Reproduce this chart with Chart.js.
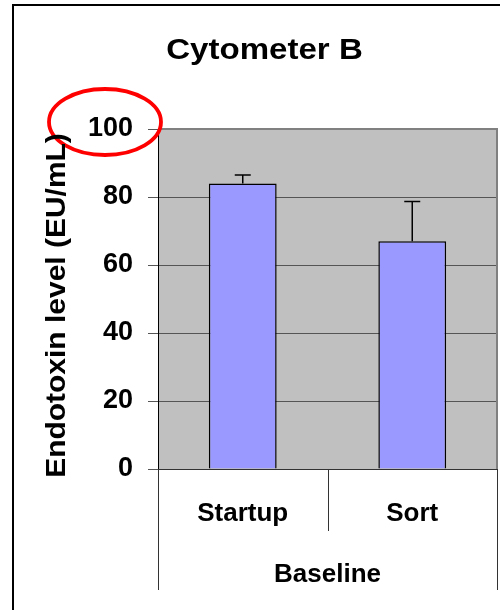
<!DOCTYPE html>
<html>
<head>
<meta charset="utf-8">
<script src="https://cdn.jsdelivr.net/npm/chart.js@4"></script>
<style>
  body { margin: 0; background: #fff; }
  #wrap { position: relative; width: 500px; height: 610px; overflow: hidden; }
  #frame { position: absolute; left: 12px; top: 4px; width: 600px; height: 700px;
           border-top: 2px solid #000; border-left: 2px solid #000; }
  #myChart { position: absolute; left: 0; top: 0; }
</style>
</head>
<body>
<div id="wrap">
  <div id="frame"></div>
  <canvas id="myChart" width="500" height="610"></canvas>
</div>
<script>
// datos
const categories = ['Startup', 'Sort'];
const groupLabel = 'Baseline';
const endotoxin = [84, 67];
const errUp = [2.5, 11.7];
const yTicks = [0, 20, 40, 60, 80, 100];
const chartTitle = 'Cytometer B';
const yTitle = 'Endotoxin level (EU/mL)';

const FONT = "'Liberation Sans', Arial, sans-serif";

// titulos dibujados un poco estirados a lo ancho, como en el original
const stretchedTitles = {
  id: 'stretchedTitles',
  afterDraw(chart) {
    const { ctx, chartArea: a, scales: { y } } = chart;
    ctx.save();
    ctx.fillStyle = '#000';
    ctx.textAlign = 'center';
    ctx.textBaseline = 'alphabetic';
    ctx.font = 'bold 29px ' + FONT;
    ctx.translate((a.left + a.right) / 2 - 63, a.top - 70.5);
    ctx.scale(1.14, 1);
    ctx.fillText(chartTitle, 0, 0);
    ctx.restore();

    ctx.save();
    ctx.fillStyle = '#000';
    ctx.textAlign = 'center';
    ctx.textBaseline = 'alphabetic';
    ctx.font = 'bold 27px ' + FONT;
    ctx.translate(y.left + 25.5, (a.top + a.bottom) / 2 + 6.5);
    ctx.rotate(-Math.PI / 2);
    ctx.scale(1.11, 1);
    ctx.fillText(yTitle, 0, 0);
    ctx.restore();
  }
};

// fondo gris del area de trazado y marco
const plotBg = {
  id: 'plotBg',
  beforeDraw(chart) {
    const { ctx, chartArea: a } = chart;
    ctx.save();
    ctx.fillStyle = '#C0C0C0';
    ctx.fillRect(a.left, a.top, a.right - a.left, a.bottom - a.top);
    ctx.restore();
  },
  afterDraw(chart) {
    const { ctx, chartArea: a, scales } = chart;
    const x = scales.x;
    ctx.save();
    ctx.strokeStyle = '#808080';
    ctx.lineWidth = 2;
    ctx.beginPath();
    ctx.moveTo(a.left, a.top);
    ctx.lineTo(a.right, a.top);
    ctx.lineTo(a.right, a.bottom);
    ctx.stroke();
    // separadores de categorias bajo el eje
    ctx.strokeStyle = '#333';
    ctx.lineWidth = 1;
    const mid = (x.getPixelForValue(0) + x.getPixelForValue(1)) / 2;
    const lines = [[x.left, x.bottom], [mid, a.bottom + 62], [x.right, x.bottom]];
    lines.forEach(([px, end]) => {
      ctx.beginPath();
      ctx.moveTo(Math.round(px) + 0.5, a.bottom);
      ctx.lineTo(Math.round(px) + 0.5, end);
      ctx.stroke();
    });
    // ovalo rojo alrededor de la etiqueta 100
    const y = scales.y;
    ctx.strokeStyle = '#FF0000';
    ctx.lineWidth = 3.8;
    ctx.beginPath();
    ctx.ellipse(y.right - 53, y.getPixelForValue(100) - 7, 56, 33, 0, 0, Math.PI * 2);
    ctx.stroke();
    ctx.restore();
  }
};

// barras de error (solo hacia arriba)
const errorBars = {
  id: 'errorBars',
  afterDatasetsDraw(chart) {
    const { ctx, scales: { y } } = chart;
    const meta = chart.getDatasetMeta(0);
    ctx.save();
    ctx.strokeStyle = '#000';
    ctx.lineWidth = 1.5;
    meta.data.forEach((bar, i) => {
      const top = y.getPixelForValue(endotoxin[i] + errUp[i]);
      ctx.beginPath();
      ctx.moveTo(bar.x, bar.y);
      ctx.lineTo(bar.x, top);
      ctx.moveTo(bar.x - 8, top);
      ctx.lineTo(bar.x + 8, top);
      ctx.stroke();
    });
    ctx.restore();
  }
};

const ctx = document.getElementById('myChart').getContext('2d');
const chart = new Chart(ctx, {
  type: 'bar',
  data: {
    labels: categories,
    datasets: [{
      label: 'Endotoxin',
      data: endotoxin,
      backgroundColor: '#9999FF',
      borderColor: '#000',
      borderWidth: 1.5,
      barPercentage: 0.4,
      categoryPercentage: 1.0
    }]
  },
  options: {
    responsive: false,
    animation: false,
    layout: { padding: { left: 39, right: 3, top: 129, bottom: 20 } },
    plugins: {
      legend: { display: false },
      tooltip: { enabled: false },
      title: { display: false }
    },
    scales: {
      x: {
        grid: { display: false },
        border: { color: '#333', width: 1 },
        ticks: {
          color: '#000',
          font: { family: FONT, size: 26, weight: 'bold' },
          padding: 21,
          maxRotation: 0
        },
        title: {
          display: true,
          text: groupLabel,
          color: '#000',
          font: { family: FONT, size: 26, weight: 'bold' },
          padding: { top: 0, bottom: 0 }
        },
        afterFit(scale) { scale.height = 121; }
      },
      y: {
        min: 0,
        max: 100,
        afterBuildTicks(scale) { scale.ticks = yTicks.map(v => ({ value: v })); },
        grid: { color: '#555', lineWidth: 1, tickLength: 10 },
        border: { color: '#000', width: 1 },
        ticks: {
          color: '#000',
          font: { family: FONT, size: 27, weight: 'bold' },
          padding: 15
        },
        afterFit(scale) { scale.width = 119; }
      }
    }
  },
  plugins: [plotBg, errorBars, stretchedTitles]
});
</script>
</body>
</html>
